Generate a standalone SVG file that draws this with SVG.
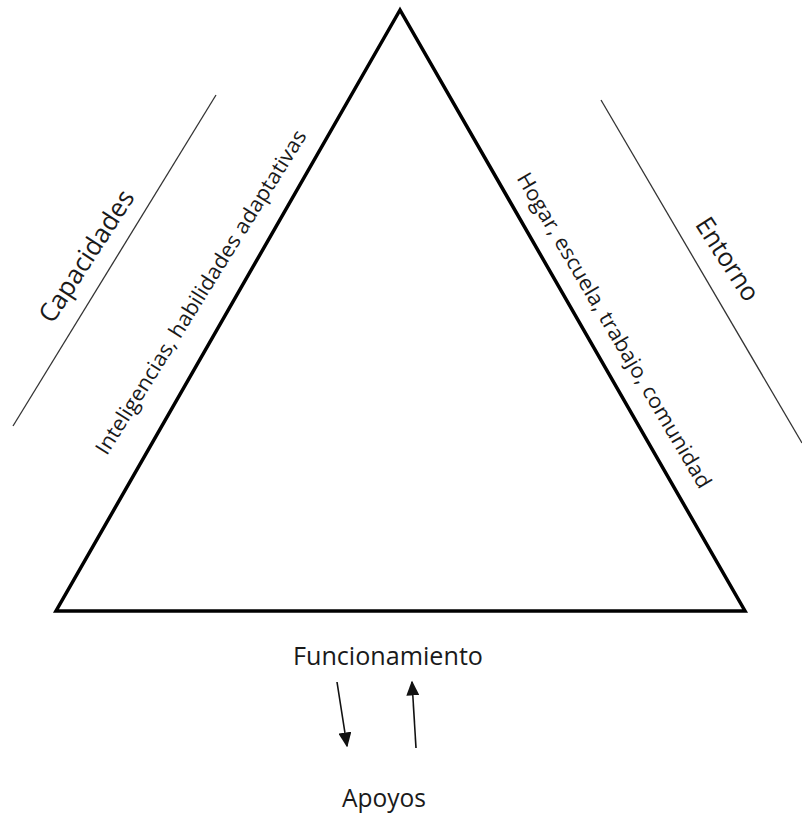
<svg xmlns="http://www.w3.org/2000/svg" width="802" height="819" viewBox="0 0 802 819">
<style>
text{font-family:"Open Sans","Liberation Sans",sans-serif;fill:#1a1a1a}
.big{font-size:26px}
.mid{font-size:21px}
.side{stroke:#333;stroke-width:1.3;fill:none}
.arr{stroke:#111;stroke-width:1.6;fill:none;marker-end:url(#ah)}
</style>
<defs>
<marker id="ah" viewBox="0 0 10 10" refX="9" refY="5" markerWidth="15" markerHeight="13" markerUnits="userSpaceOnUse" orient="auto" preserveAspectRatio="none"><path d="M0,0 L10,5 L0,10 z" fill="#111"/></marker>
</defs>
<rect width="802" height="819" fill="#fff"/>
<g id="triangle"><polygon points="400,10 56,611 745,611" fill="none" stroke="#000" stroke-width="3.5" stroke-linejoin="miter"/></g>
<g id="capacidades">
<line class="side" x1="216" y1="95" x2="13" y2="426"/>
<text class="big" transform="translate(94,261) rotate(-57)" text-anchor="middle" textLength="152" lengthAdjust="spacingAndGlyphs">Capacidades</text>
</g>
<g id="entorno">
<line class="side" x1="601" y1="100" x2="802" y2="443"/>
<text class="big" transform="translate(720,264) rotate(57)" text-anchor="middle" textLength="94" lengthAdjust="spacingAndGlyphs">Entorno</text>
</g>
<g id="inteligencias"><text class="mid" transform="translate(207,296) rotate(-58)" text-anchor="middle" textLength="378" lengthAdjust="spacingAndGlyphs">Inteligencias, habilidades adaptativas</text></g>
<g id="hogar"><text class="mid" transform="translate(608,334) rotate(59.5)" text-anchor="middle" textLength="362" lengthAdjust="spacingAndGlyphs">Hogar, escuela, trabajo, comunidad</text></g>
<g id="funcionamiento"><text class="big" x="388" y="665" text-anchor="middle" textLength="190" lengthAdjust="spacingAndGlyphs">Funcionamiento</text></g>
<g id="apoyos"><text class="big" x="384" y="807" text-anchor="middle" textLength="84" lengthAdjust="spacingAndGlyphs">Apoyos</text></g>
<g id="connectors">
<line class="arr" x1="337" y1="682" x2="347" y2="746"/>
<line class="arr" x1="416" y1="748" x2="412" y2="682"/>
</g>
</svg>
